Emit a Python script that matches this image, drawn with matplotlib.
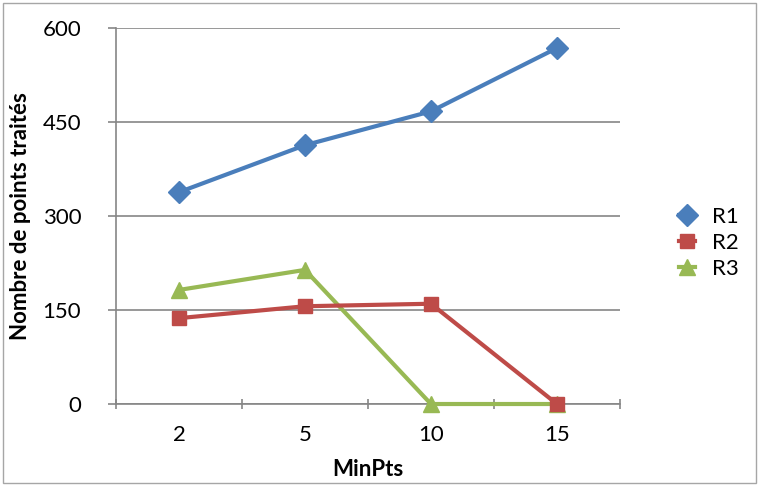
import matplotlib.pyplot as plt
from matplotlib.patches import Rectangle

plt.rcParams['font.family'] = ['Lato', 'DejaVu Sans']

# MinPts settings and number of processed points per run
minpts = ['2', '5', '10', '15']
r1 = [338, 413, 467, 568]
r2 = [137, 156, 160, 0]
r3 = [182, 214, 0, 0]
yticks = [0, 150, 300, 450, 600]

grey = '#868686'

fig = plt.figure(figsize=(7.59, 4.86), dpi=100)
ax = fig.add_axes([0.1528, 0.1687, 0.664, 0.7737])

x = range(len(minpts))
ax.plot(x, r1, color='#4A7EBB', lw=3, marker='D', ms=11, label='R1', clip_on=False, zorder=3)
ax.plot(x, r2, color='#BE4B48', lw=3, marker='s', ms=10, label='R2', clip_on=False, zorder=5)
ax.plot(x, r3, color='#98B954', lw=3, marker='^', ms=11, label='R3', clip_on=False, zorder=4)

ax.set_xlim(-0.5, len(minpts) - 0.5)
ax.set_ylim(0, 600)
ax.set_yticks(yticks)
ax.set_yticklabels([str(v) for v in yticks])
ax.yaxis.grid(True, color=grey, lw=1.2)
ax.set_axisbelow(True)

# category labels sit between boundary ticks, Excel style
ax.set_xticks([i + 0.5 for i in range(-1, len(minpts))])
ax.set_xticklabels([])
ax.set_xticks(list(x), minor=True)
ax.set_xticklabels(minpts, minor=True)
ax.tick_params(axis='x', which='major', length=7, width=1.2, color=grey, direction='inout')
ax.tick_params(axis='x', which='minor', length=0, pad=15, labelsize=16)
ax.tick_params(axis='y', length=6, width=1.2, color=grey, direction='out', pad=19, labelsize=16)

for side in ['top', 'right']:
    ax.spines[side].set_visible(False)
for side in ['left', 'bottom']:
    ax.spines[side].set_color(grey)
    ax.spines[side].set_linewidth(1.2)

ax.set_xlabel('MinPts', fontsize=16, fontweight='bold', labelpad=10)
ax.set_ylabel('Nombre de points traités', fontsize=16, fontweight='bold', labelpad=8)

# legend is centred on the figure height, right of the plot area
ax.legend(loc='center left', bbox_to_anchor=(0.883, 0.5), bbox_transform=fig.transFigure,
          frameon=False, fontsize=16, handlelength=0.7, handletextpad=0.8,
          labelspacing=0.28, borderaxespad=0)

fig.patches.append(Rectangle((0.004, 0.006), 0.992, 0.988, transform=fig.transFigure,
                             fill=False, edgecolor='#A6A6A6', lw=1.0))

fig.savefig('out.png', dpi=100)
